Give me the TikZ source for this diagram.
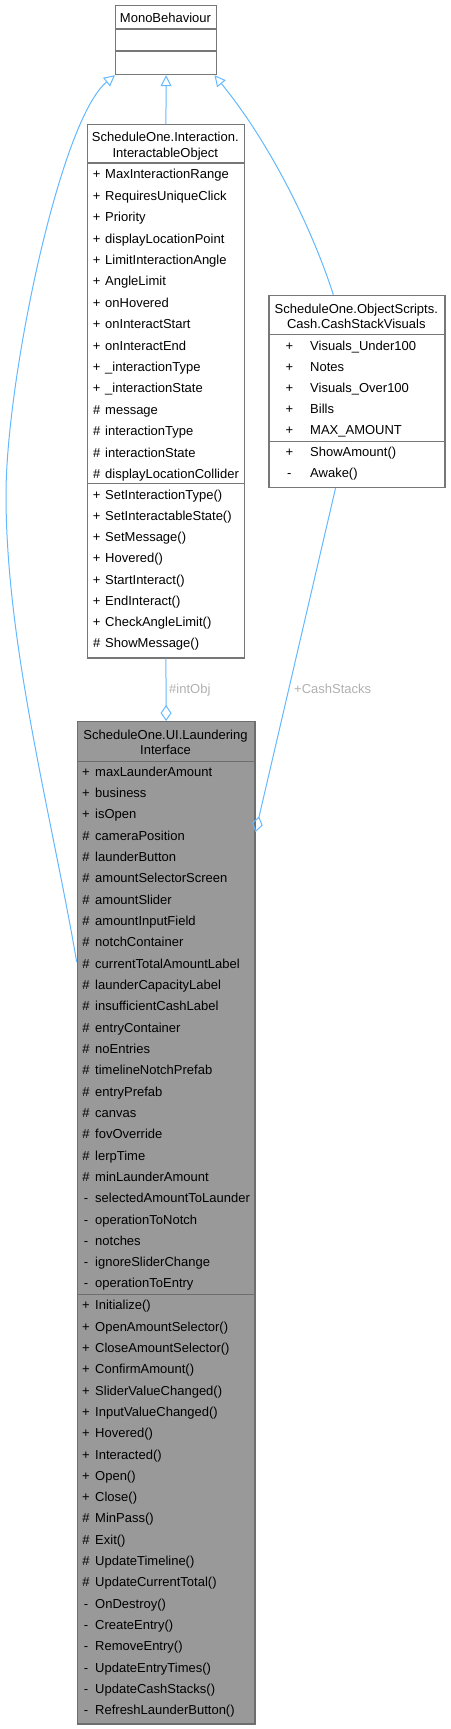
\documentclass[tikz,border=0pt]{standalone}
\usepackage{fontspec}
\setmainfont{Liberation Sans}
\usetikzlibrary{arrows.meta,calc}
\definecolor{edgeblue}{HTML}{63B8FF}
\definecolor{boxline}{HTML}{777777}
\definecolor{focusfill}{HTML}{999999}
\definecolor{focusline}{HTML}{6E6E6E}
\definecolor{labelgray}{HTML}{B0B0B0}
\begin{document}
\begin{tikzpicture}[x=1pt,y=-1pt,
  font=\fontsize{13}{15}\selectfont,
  umlbox/.style={draw=boxline, fill=white, line width=1.2pt, inner sep=0pt, anchor=north west},
  focusbox/.style={umlbox, draw=focusline, fill=focusfill},
  sepline/.style={draw=boxline, line width=1.2pt},
  focussep/.style={draw=focusline, line width=1.2pt},
  rowtext/.style={anchor=base west, inner sep=0pt},
  symtext/.style={anchor=base, inner sep=0pt},
  titletext/.style={anchor=base, inner sep=0pt},
  inh/.style={draw=edgeblue, line width=1pt, -{Triangle[open, length=11pt, width=11pt]}},
  comp/.style={draw=edgeblue, line width=1pt, -{Diamond[open, length=16pt, width=11pt]}},
  edgelabel/.style={anchor=base west, inner sep=0pt, text=labelgray}
]
\useasboundingbox (0,0) rectangle (450,1729);

% ---------- MonoBehaviour ----------
\node[umlbox, minimum width=101pt, minimum height=69pt] (mb) at (115,5) {};
\draw[sepline] (mb.west |- 0,29) -- (mb.east |- 0,29);
\draw[sepline] (mb.west |- 0,51) -- (mb.east |- 0,51);
\node[titletext] (mbt) at (165.5,22.9) {MonoBehaviour};

% ---------- InteractableObject ----------
\node[umlbox, minimum width=157.3pt, minimum height=533.3pt] (io) at (86.7,124) {};
\draw[sepline] (io.west |- 0,163) -- (io.east |- 0,163);
\draw[sepline] (io.west |- 0,483.3) -- (io.east |- 0,483.3);
\node[titletext] (iot1) at (165.3,141.2) {ScheduleOne.Interaction.};
\node[titletext] (iot2) at (165.3,157.6) {InteractableObject};
\foreach \s/\t [count=\i from 0] in {+/MaxInteractionRange, +/RequiresUniqueClick, +/Priority, +/displayLocationPoint, +/LimitInteractionAngle, +/AngleLimit, +/onHovered, +/onInteractStart, +/onInteractEnd, +/\_interactionType, +/\_interactionState, \#/message, \#/interactionType, \#/interactionState, \#/displayLocationCollider}{
  \node[symtext] (ioas\i) at (96.7,{174.3+21.4*\i+4.6}) {\s};
  \node[rowtext] (ioa\i) at (105,{174.3+21.4*\i+4.6}) {\t};
}
\foreach \s/\t [count=\i from 0] in {+/SetInteractionType(), +/SetInteractableState(), +/SetMessage(), +/Hovered(), +/StartInteract(), +/EndInteract(), +/CheckAngleLimit(), \#/ShowMessage()}{
  \node[symtext] (ioms\i) at (96.7,{494.7+21.2*\i+4.6}) {\s};
  \node[rowtext] (iom\i) at (105,{494.7+21.2*\i+4.6}) {\t};
}

% ---------- CashStackVisuals ----------
\node[umlbox, minimum width=176pt, minimum height=192pt] (csv) at (268.3,294.7) {};
\draw[sepline] (csv.west |- 0,334.7) -- (csv.east |- 0,334.7);
\draw[sepline] (csv.west |- 0,441.7) -- (csv.east |- 0,441.7);
\node[titletext] (csvt1) at (356.3,313.9) {ScheduleOne.ObjectScripts.};
\node[titletext] (csvt2) at (356.3,328.1) {Cash.CashStackVisuals};
\foreach \s/\t [count=\i from 0] in {+/Visuals\_Under100, +/Notes, +/Visuals\_Over100, +/Bills, +/MAX\_AMOUNT}{
  \node[symtext] (csvas\i) at (289.3,{345.7+21.15*\i+4.6}) {\s};
  \node[rowtext] (csva\i) at (310,{345.7+21.15*\i+4.6}) {\t};
}
\foreach \s/\t [count=\i from 0] in {+/ShowAmount(), -/Awake()}{
  \node[symtext] (csvms\i) at (289.3,{452.3+21*\i+4.6}) {\s};
  \node[rowtext] (csvm\i) at (310,{452.3+21*\i+4.6}) {\t};
}

% ---------- LaunderingInterface ----------
\node[focusbox, minimum width=177.6pt, minimum height=1002.3pt] (li) at (76.7,721) {};
\draw[focussep] (li.west |- 0,761.3) -- (li.east |- 0,761.3);
\draw[focussep] (li.west |- 0,1294.7) -- (li.east |- 0,1294.7);
\node[titletext] (lit1) at (165.5,739.6) {ScheduleOne.UI.Laundering};
\node[titletext] (lit2) at (165.5,754.8) {Interface};
\foreach \s/\t [count=\i from 0] in {+/maxLaunderAmount, +/business, +/isOpen, \#/cameraPosition, \#/launderButton, \#/amountSelectorScreen, \#/amountSlider, \#/amountInputField, \#/notchContainer, \#/currentTotalAmountLabel, \#/launderCapacityLabel, \#/insufficientCashLabel, \#/entryContainer, \#/noEntries, \#/timelineNotchPrefab, \#/entryPrefab, \#/canvas, \#/fovOverride, \#/lerpTime, \#/minLaunderAmount, -/selectedAmountToLaunder, -/operationToNotch, -/notches, -/ignoreSliderChange, -/operationToEntry}{
  \node[symtext] (lias\i) at (86,{771.7+21.32*\i+4.6}) {\s};
  \node[rowtext] (lia\i) at (95,{771.7+21.32*\i+4.6}) {\t};
}
\foreach \s/\t [count=\i from 0] in {+/Initialize(), +/OpenAmountSelector(), +/CloseAmountSelector(), +/ConfirmAmount(), +/SliderValueChanged(), +/InputValueChanged(), +/Hovered(), +/Interacted(), +/Open(), +/Close(), \#/MinPass(), \#/Exit(), \#/UpdateTimeline(), \#/UpdateCurrentTotal(), -/OnDestroy(), -/CreateEntry(), -/RemoveEntry(), -/UpdateEntryTimes(), -/UpdateCashStacks(), -/RefreshLaunderButton()}{
  \node[symtext] (lims\i) at (86,{1305.3+21.3*\i+4.6}) {\s};
  \node[rowtext] (lim\i) at (95,{1305.3+21.3*\i+4.6}) {\t};
}

% ---------- Connectors ----------
\draw[inh] (io.north) -- (mb.south);
\draw[inh] ([yshift=-241pt]li.north west) .. controls (51.5,815) and (6,645) .. (6,495)
  .. controls (6,380) and (60,120) .. (mb.south west);
\draw[inh] ([xshift=-23.6pt]csv.north) .. controls (315,237) and (274,148) .. ([xshift=-2.7pt]mb.south east);
\draw[comp] (io.south) -- (li.north);
\draw[comp] ([xshift=-21.3pt]csv.south) -- ([yshift=-111pt]li.north east);
\node[edgelabel] (lblint) at (169,693.9) {\#intObj};
\node[edgelabel] (lblcash) at (294,693.9) {+CashStacks};
\end{tikzpicture}
\end{document}
